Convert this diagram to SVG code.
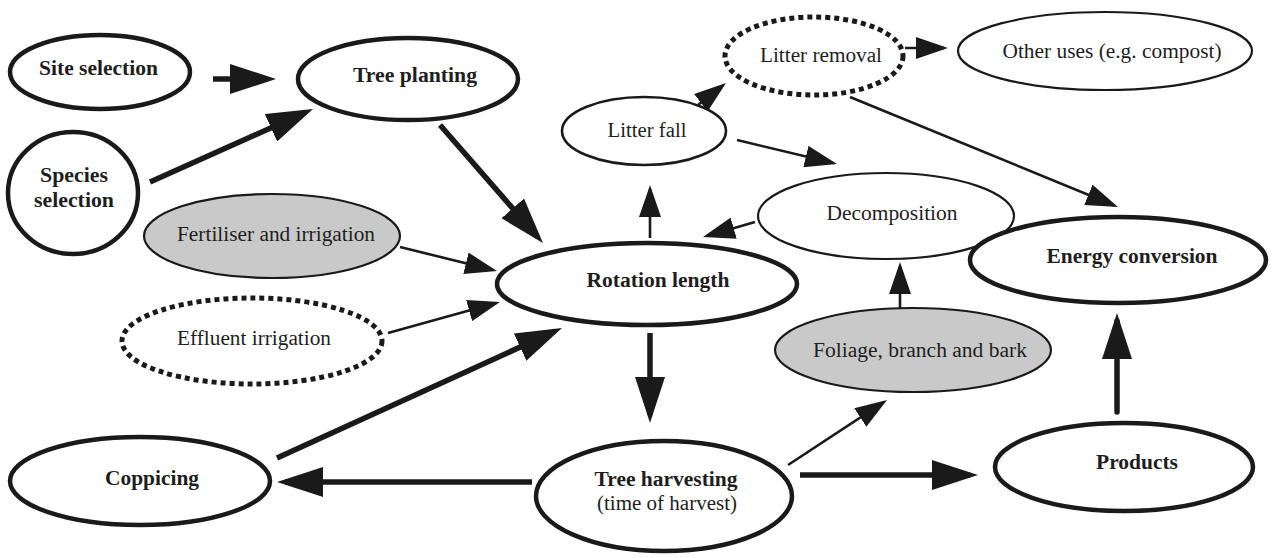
<svg xmlns="http://www.w3.org/2000/svg" width="1274" height="558" viewBox="0 0 1274 558">
  <style>
    .n { fill: #ffffff; stroke: #1a1a1a; }
    .thick { stroke-width: 4.5; }
    .thin { stroke-width: 2.2; }
    .grey { fill: #c9c9c9; }
    .dots { stroke-width: 5; stroke-dasharray: 5 4; }
    text { font-family: "Liberation Serif", "Times New Roman", serif; font-size: 20px; fill: #1e1e1e; text-anchor: middle; }
    .b { font-weight: bold; }
    .c { stroke: #1a1a1a; fill: none; }
    .heavy { stroke-width: 5.5; marker-end: url(#big); }
    .light { stroke-width: 2.6; marker-end: url(#small); }
  </style>
  <defs>
    <marker id="big" markerUnits="userSpaceOnUse" markerWidth="46" markerHeight="30" refX="38" refY="15" orient="auto">
      <path d="M0,0 L46,15 L0,30 Z" fill="#1a1a1a"/>
    </marker>
    <marker id="small" markerUnits="userSpaceOnUse" markerWidth="32" markerHeight="22" refX="28" refY="11" orient="auto">
      <path d="M0,0 L32,11 L0,22 Z" fill="#1a1a1a"/>
    </marker>
  </defs>
  <rect width="1274" height="558" fill="#ffffff"/>

  <g id="connectors">
    <!-- heavy flows -->
    <line class="c heavy" x1="213" y1="79" x2="268" y2="79"/>
    <line class="c heavy" x1="150" y1="182" x2="305.7" y2="112.3"/>
    <line class="c heavy" x1="440" y1="125" x2="537.7" y2="237"/>
    <line class="c heavy" x1="650" y1="333" x2="650" y2="415"/>
    <line class="c heavy" x1="532" y1="482" x2="285" y2="482"/>
    <line class="c heavy" x1="800" y1="475" x2="970" y2="475"/>
    <line class="c heavy" x1="1117" y1="412" x2="1117" y2="321" stroke-linecap="round"/>
    <line class="c heavy" x1="277" y1="458" x2="554.7" y2="331.3"/>
    <!-- light flows -->
    <line class="c light" x1="400" y1="247" x2="493.1" y2="270"/>
    <line class="c light" x1="388" y1="333" x2="496.1" y2="303.1"/>
    <line class="c light" x1="650" y1="238" x2="650" y2="189"/>
    <line class="c light" x1="737" y1="140" x2="833.1" y2="163.1"/>
    <line class="c light" x1="755" y1="222" x2="706.8" y2="235.9"/>
    <line class="c light" x1="900" y1="308" x2="900" y2="266"/>
    <line class="c light" x1="788" y1="465" x2="883.7" y2="402.2"/>
    <line class="c light" x1="905" y1="48" x2="944" y2="48"/>
    <line class="c light" x1="850" y1="97" x2="1114.3" y2="205.5"/>
    <line class="c light" x1="698" y1="105" x2="722.9" y2="85.5"/>
  </g>

  <g id="site-selection">
    <ellipse class="n thick" cx="100" cy="72" rx="90" ry="37"/>
    <text class="b" x="98.5" y="75" textLength="119" lengthAdjust="spacingAndGlyphs">Site selection</text>
  </g>
  <g id="tree-planting">
    <ellipse class="n thick" cx="408" cy="79" rx="110" ry="41"/>
    <text class="b" x="415" y="82" textLength="124" lengthAdjust="spacingAndGlyphs">Tree planting</text>
  </g>
  <g id="species-selection">
    <ellipse class="n thick" cx="73" cy="193" rx="65" ry="61"/>
    <text class="b" x="74" y="182" textLength="68" lengthAdjust="spacingAndGlyphs">Species</text>
    <text class="b" x="74" y="207" textLength="80" lengthAdjust="spacingAndGlyphs">selection</text>
  </g>
  <g id="fertiliser-irrigation">
    <ellipse class="n thin grey" cx="272" cy="236" rx="128" ry="42"/>
    <text x="276" y="241" textLength="198" lengthAdjust="spacingAndGlyphs">Fertiliser and irrigation</text>
  </g>
  <g id="effluent-irrigation">
    <ellipse class="n dots" cx="252" cy="341" rx="130" ry="43"/>
    <text x="254" y="345" textLength="154" lengthAdjust="spacingAndGlyphs">Effluent irrigation</text>
  </g>
  <g id="coppicing">
    <ellipse class="n thick" cx="140" cy="481" rx="130" ry="44"/>
    <text class="b" x="152" y="485" textLength="94" lengthAdjust="spacingAndGlyphs">Coppicing</text>
  </g>
  <g id="rotation-length">
    <ellipse class="n thick" cx="647" cy="284" rx="150" ry="41"/>
    <text class="b" x="658" y="287" textLength="143" lengthAdjust="spacingAndGlyphs">Rotation  length</text>
  </g>
  <g id="tree-harvesting">
    <ellipse class="n thick" cx="664" cy="496" rx="128" ry="55"/>
    <text class="b" x="666" y="486" textLength="143" lengthAdjust="spacingAndGlyphs">Tree harvesting</text>
    <text x="667" y="510" textLength="140" lengthAdjust="spacingAndGlyphs">(time of harvest)</text>
  </g>
  <g id="litter-fall">
    <ellipse class="n" stroke-width="2.6" cx="644" cy="131" rx="82" ry="34"/>
    <text x="647" y="137" textLength="79" lengthAdjust="spacingAndGlyphs">Litter fall</text>
  </g>
  <g id="litter-removal">
    <ellipse class="n dots" cx="814" cy="56" rx="89" ry="39"/>
    <text x="821" y="62" textLength="122" lengthAdjust="spacingAndGlyphs">Litter removal</text>
  </g>
  <g id="other-uses">
    <ellipse class="n thin" cx="1105" cy="51" rx="147" ry="39"/>
    <text x="1112" y="58" textLength="219" lengthAdjust="spacingAndGlyphs">Other uses (e.g. compost)</text>
  </g>
  <g id="decomposition">
    <ellipse class="n thin" cx="886" cy="216" rx="128" ry="43"/>
    <text x="892" y="220" textLength="131" lengthAdjust="spacingAndGlyphs">Decomposition</text>
  </g>
  <g id="energy-conversion">
    <ellipse class="n thick" cx="1118" cy="260" rx="148" ry="43"/>
    <text class="b" x="1132" y="263" textLength="171" lengthAdjust="spacingAndGlyphs">Energy conversion</text>
  </g>
  <g id="foliage-branch-bark">
    <ellipse class="n thin grey" cx="913" cy="350" rx="138" ry="42"/>
    <text x="920" y="357" textLength="214" lengthAdjust="spacingAndGlyphs">Foliage, branch and bark</text>
  </g>
  <g id="products">
    <ellipse class="n thick" cx="1124" cy="467" rx="129" ry="44"/>
    <text class="b" x="1137" y="469" textLength="82" lengthAdjust="spacingAndGlyphs">Products</text>
  </g>
</svg>
